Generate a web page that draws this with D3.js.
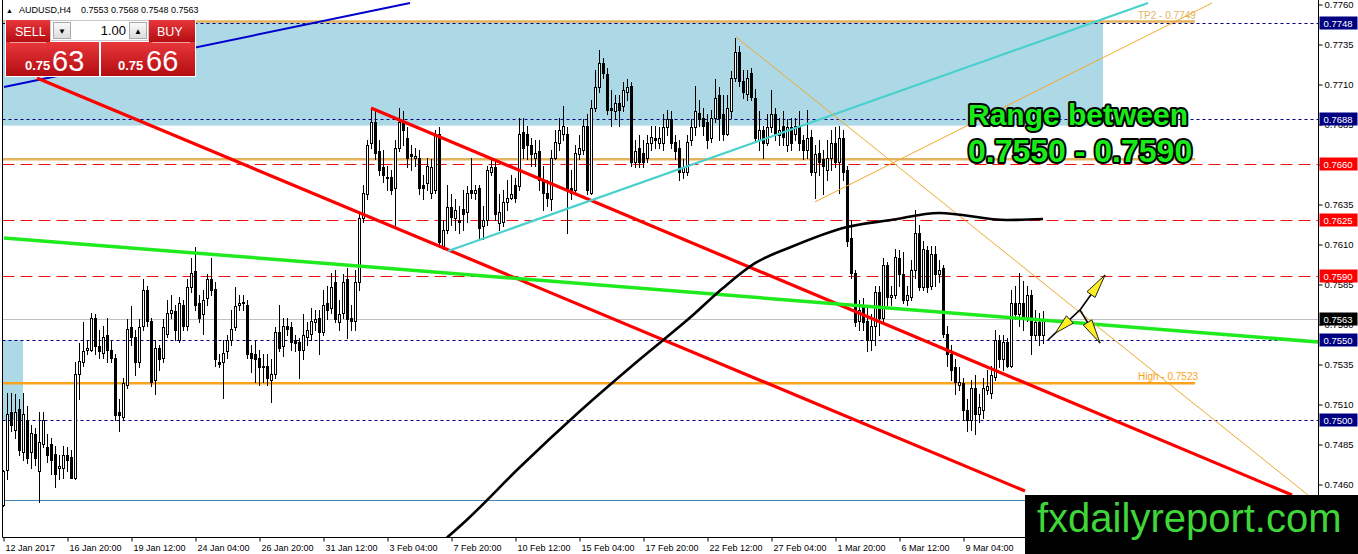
<!DOCTYPE html>
<html><head><meta charset="utf-8">
<script src="https://cdn.jsdelivr.net/npm/d3@7"></script>
<style>
html,body{margin:0;padding:0;background:#fff;overflow:hidden;}
svg{display:block;}
text{font-family:"Liberation Sans",Arial,sans-serif;}
</style></head><body>
<svg id="c" width="1358" height="554"></svg>
<script>
// ---------- DATA ----------
// AUDUSD H4 candles, [open, high, low, close] in pips (price x 10000)
const ohlcPips = [
[7447,7469,7446,7468],[7469,7517,7463,7504],[7505,7517,7493,7497],[7494,7516,7489,7505],[7507,7513,7478,7481],
[7480,7517,7475,7504],[7500,7509,7473,7476],[7480,7497,7470,7492],[7491,7495,7472,7476],[7468,7505,7449,7486],
[7485,7505,7483,7500],[7483,7491,7474,7478],[7485,7489,7466,7475],[7479,7484,7458,7466],[7470,7478,7463,7471],
[7470,7484,7464,7478],[7478,7483,7468,7475],[7477,7481,7464,7464],[7464,7536,7463,7529],[7529,7548,7513,7537],
[7536,7561,7534,7543],[7544,7550,7541,7545],[7544,7567,7543,7564],[7564,7566,7541,7546],[7546,7556,7539,7543],
[7542,7559,7539,7552],[7553,7564,7536,7544],[7544,7550,7536,7539],[7539,7541,7500,7503],[7505,7513,7493,7503],
[7502,7526,7500,7523],[7522,7563,7520,7557],[7558,7571,7547,7552],[7552,7556,7528,7536],[7536,7563,7533,7558],
[7559,7588,7556,7581],[7581,7584,7559,7562],[7562,7564,7521,7524],[7525,7550,7516,7545],[7545,7547,7531,7538],
[7539,7563,7536,7558],[7554,7575,7552,7567],[7567,7578,7564,7569],[7568,7572,7550,7556],[7550,7577,7549,7573],
[7572,7575,7556,7559],[7559,7588,7556,7583],[7583,7601,7580,7592],[7593,7608,7569,7572],[7573,7578,7561,7564],
[7566,7581,7554,7575],[7576,7591,7572,7588],[7588,7601,7578,7581],[7582,7586,7534,7538],[7536,7541,7533,7535],
[7536,7550,7514,7542],[7543,7553,7539,7550],[7550,7569,7547,7557],[7558,7583,7556,7571],[7572,7578,7569,7573],
[7574,7578,7569,7573],[7572,7575,7539,7541],[7542,7547,7530,7539],[7541,7550,7524,7538],[7539,7544,7522,7533],
[7534,7541,7524,7533],[7534,7541,7522,7526],[7525,7538,7511,7529],[7529,7558,7526,7555],[7555,7572,7543,7545],
[7546,7564,7540,7559],[7559,7564,7553,7557],[7558,7561,7544,7549],[7550,7553,7543,7548],[7549,7551,7526,7544],
[7544,7566,7538,7553],[7552,7561,7547,7556],[7554,7570,7550,7562],[7561,7569,7556,7563],[7564,7569,7541,7555],
[7555,7581,7553,7572],[7573,7584,7563,7569],[7570,7592,7567,7583],[7586,7594,7561,7563],[7561,7575,7556,7566],
[7567,7591,7564,7586],[7588,7595,7551,7563],[7564,7572,7556,7562],[7562,7594,7556,7586],[7586,7630,7581,7626],
[7626,7647,7624,7642],[7641,7675,7638,7672],[7673,7695,7670,7686],[7686,7693,7663,7667],[7668,7675,7653,7656],
[7658,7669,7649,7653],[7652,7659,7644,7651],[7652,7656,7641,7644],[7645,7675,7622,7670],[7670,7695,7668,7686],
[7686,7693,7672,7681],[7676,7683,7658,7664],[7666,7672,7656,7665],[7664,7670,7659,7665],[7664,7669,7641,7645],
[7647,7653,7638,7645],[7648,7664,7644,7659],[7642,7663,7639,7658],[7644,7681,7642,7678],[7679,7683,7608,7611],
[7609,7625,7607,7619],[7619,7647,7617,7633],[7633,7641,7622,7627],[7626,7638,7619,7631],[7625,7634,7617,7624],
[7632,7644,7619,7629],[7630,7646,7624,7642],[7644,7664,7639,7642],[7642,7647,7638,7644],[7645,7647,7614,7620],
[7621,7634,7613,7625],[7625,7659,7622,7656],[7655,7663,7653,7658],[7658,7661,7625,7629],[7623,7641,7619,7630],
[7624,7644,7621,7636],[7636,7650,7631,7639],[7639,7653,7638,7641],[7647,7651,7636,7639],[7646,7689,7644,7679],
[7680,7689,7664,7670],[7679,7684,7663,7672],[7672,7676,7659,7666],[7664,7675,7659,7667],[7668,7675,7644,7650],
[7650,7659,7631,7642],[7642,7650,7634,7639],[7638,7669,7631,7664],[7664,7681,7663,7674],[7673,7689,7669,7681],
[7679,7696,7675,7684],[7679,7683,7617,7644],[7645,7656,7638,7642],[7644,7672,7641,7667],[7666,7678,7663,7670],
[7669,7688,7666,7684],[7684,7691,7641,7644],[7642,7700,7641,7695],[7695,7719,7693,7708],[7708,7731,7705,7723],
[7723,7726,7714,7717],[7716,7720,7691,7694],[7695,7706,7684,7694],[7693,7703,7688,7698],[7698,7703,7684,7694],
[7696,7711,7693,7706],[7705,7713,7700,7708],[7709,7711,7659,7661],[7661,7675,7658,7668],[7670,7678,7658,7661],
[7667,7675,7658,7661],[7664,7678,7661,7673],[7673,7684,7669,7677],[7676,7684,7670,7675],[7673,7683,7670,7676],
[7673,7691,7669,7683],[7683,7694,7678,7688],[7688,7693,7670,7673],[7674,7678,7663,7668],[7670,7675,7650,7655],
[7655,7663,7651,7658],[7655,7678,7653,7674],[7675,7688,7672,7683],[7683,7709,7678,7693],[7692,7700,7684,7688],
[7689,7695,7678,7684],[7686,7691,7670,7675],[7676,7694,7674,7689],[7689,7713,7686,7701],[7703,7708,7675,7689],
[7691,7703,7675,7679],[7679,7703,7678,7695],[7693,7718,7689,7714],[7714,7739,7712,7730],[7730,7734,7709,7712],
[7712,7719,7701,7705],[7704,7719,7700,7714],[7717,7720,7700,7702],[7701,7707,7674,7676],[7675,7693,7669,7681],
[7681,7684,7664,7673],[7673,7691,7672,7683],[7683,7706,7680,7691],[7691,7695,7675,7679],[7678,7689,7672,7681],
[7684,7693,7672,7677],[7672,7688,7668,7683],[7683,7689,7669,7673],[7679,7689,7675,7684],[7683,7693,7669,7673],
[7675,7678,7663,7669],[7669,7694,7664,7676],[7677,7681,7653,7655],[7655,7672,7639,7666],[7667,7675,7653,7661],
[7663,7669,7641,7659],[7656,7675,7650,7664],[7664,7681,7656,7673],[7673,7683,7658,7661],[7661,7684,7642,7676],
[7676,7681,7650,7655],[7656,7659,7609,7612],[7614,7625,7589,7592],[7592,7594,7559,7561],[7562,7575,7556,7569],
[7571,7576,7556,7561],[7562,7572,7543,7550],[7550,7566,7544,7559],[7559,7584,7547,7580],[7580,7584,7553,7564],
[7564,7601,7562,7597],[7597,7599,7572,7577],[7577,7584,7572,7578],[7578,7607,7576,7602],[7601,7606,7584,7591],
[7591,7605,7573,7575],[7575,7584,7572,7578],[7577,7600,7575,7594],[7594,7631,7589,7617],[7617,7622,7581,7583],
[7583,7612,7581,7607],[7606,7609,7580,7583],[7584,7609,7582,7604],[7604,7609,7584,7591],[7591,7600,7586,7594],
[7595,7597,7552,7554],[7554,7559,7534,7541],[7541,7547,7525,7531],[7533,7538,7516,7524],[7522,7533,7519,7524],
[7523,7526,7500,7506],[7506,7513,7493,7500],[7500,7525,7494,7520],[7520,7528,7491,7504],[7504,7516,7499,7508],
[7506,7526,7501,7520],[7519,7531,7516,7521],[7517,7534,7514,7528],[7527,7556,7525,7550],[7550,7553,7533,7538],
[7538,7553,7531,7549],[7549,7551,7533,7534],[7534,7581,7533,7573],[7573,7584,7563,7566],[7566,7592,7559,7573],
[7573,7587,7556,7564],[7564,7584,7562,7578],[7578,7581,7541,7553],[7553,7569,7550,7561],[7561,7567,7547,7553],
[7553,7568,7548,7563]
];
const xTickBars = [0,16,32,48,64,80,96,112,128,144,160,176,192,208,224,240];
const xLabels = ["12 Jan 2017","16 Jan 20:00","19 Jan 12:00","24 Jan 04:00","26 Jan 20:00","31 Jan 12:00",
  "3 Feb 04:00","7 Feb 20:00","10 Feb 12:00","15 Feb 04:00","17 Feb 20:00","22 Feb 12:00","27 Feb 04:00",
  "1 Mar 20:00","6 Mar 12:00","9 Mar 04:00"];
const yTicks = [0.7760,0.7735,0.7710,0.7685,0.7660,0.7635,0.7610,0.7585,0.7560,0.7535,0.7510,0.7485,0.7460];
const priceRange = [0.7426875, 0.7760];
const barRange = [0, 1];

const navyLevels = [0.7748, 0.7688, 0.7550, 0.7500];
const redLevels = [0.7660, 0.7625, 0.7590];
const currentPrice = 0.7563;
const baseLevel = 0.7450;
const objectLevels = [0.7749, 0.7663, 0.7523];
const objectLabels = ["TP2 - 0.7749", "", "High - 0.7523"];
const objectEndBar = 298;
const priceTags = [0.7748, 0.7688, 0.7660, 0.7625, 0.7590, 0.7563, 0.7550, 0.7500];
const priceTagKinds = ["navy","navy","red","red","red","black","navy","navy"];
const zones = [ // [bar from, bar to, price low, price high]
  [-10, 275, 0.7684, 0.7749],
  [-10, 5, 0.7500, 0.7550]
];
const trendIds = ["blue","redLower","redUpper","green","cyan","orangeDown","orangeUp"];
const trendPoints = [ // [bar1, price1, bar2, price2]
  [0.25, 0.77081, 101.75, 0.77606],
  [8.5, 0.77138, 255.5, 0.74556],
  [92, 0.76950, 322.25, 0.74531],
  [0.25, 0.76138, 328.75, 0.75488],
  [111.25, 0.76056, 286.25, 0.77606],
  [183.25, 0.77394, 326.25, 0.74531],
  [203, 0.76363, 302.25, 0.77606]
];
const maBars = [111,116,129,144,159,172,180,188,197,211,222,234,251,260];
const maValues = [0.74265,0.74377,0.74700,0.75050,0.75375,0.75645,0.75825,0.75980,0.76081,0.76206,0.76250,0.76294,0.76250,0.76256];
const arrowNodes = { A:[261.25,0.75500], B:[269.25,0.75688], C:[275.5,0.75906], D:[274.25,0.75481] };
const header = { symbol:"AUDUSD,H4", values:"0.7553 0.7568 0.7548 0.7563" };
const quote = { lot:"1.00", bidBig:"0.75", bid:"63", askBig:"0.75", ask:"66" };
const rangeText = ["Range between", "0.7550 - 0.7590"];

// ---------- STYLES ----------
const trendStyle = {
  blue:{c:"#0000cd",w:2}, redLower:{c:"#ff0000",w:3.2}, redUpper:{c:"#ff0000",w:3.2},
  green:{c:"#1eea1e",w:3.5}, cyan:{c:"#48d1cc",w:2.2}, orangeDown:{c:"#f0a830",w:1}, orangeUp:{c:"#f0a830",w:1}
};
const tagColor = {navy:"#000080", red:"#ff0000", black:"#000000"};
const objColors = ["#e3b35e","#e3b35e","#f9a21b"];

// ---------- SCALES ----------
const x = d3.scaleLinear().domain(barRange).range([3, 7]);
const y = d3.scaleLinear().domain(priceRange).range([537, 4]);
const PL = 2.5, PR = 1318.5, PB = 537.5;

const candles = ohlcPips.map((r,i)=>({i, o:r[0]/1e4, h:r[1]/1e4, l:r[2]/1e4, c:r[3]/1e4}));

const svg = d3.select("#c");
const defs = svg.append("defs");
defs.append("clipPath").attr("id","plot").append("rect").attr("x",3).attr("y",0).attr("width",PR-3).attr("height",PB);
const gr = defs.append("linearGradient").attr("id","redg").attr("x1",0).attr("y1",0).attr("x2",0).attr("y2",1);
gr.append("stop").attr("offset","0").attr("stop-color","#e8373a");
gr.append("stop").attr("offset","1").attr("stop-color","#b30d12");
const gg = defs.append("linearGradient").attr("id","grayg").attr("x1",0).attr("y1",0).attr("x2",0).attr("y2",1);
gg.append("stop").attr("offset","0").attr("stop-color","#fafafa");
gg.append("stop").attr("offset","1").attr("stop-color","#dcdcdc");

const plot = svg.append("g").attr("clip-path","url(#plot)");

// zones
plot.append("g").selectAll("rect").data(zones).join("rect")
  .attr("x", d=>x(d[0])).attr("width", d=>x(d[1])-x(d[0]))
  .attr("y", d=>y(d[3])).attr("height", d=>y(d[2])-y(d[3]))
  .attr("fill","#add8e6");

const px = v => Math.round(v)+0.5;
// horizontal levels
plot.append("line").attr("x1",PL).attr("x2",PR).attr("y1",px(y(baseLevel))).attr("y2",px(y(baseLevel))).attr("stroke","#4682b4");
plot.append("line").attr("x1",PL).attr("x2",PR).attr("y1",px(y(currentPrice))).attr("y2",px(y(currentPrice))).attr("stroke","#c0c0c0");
plot.append("g").selectAll("line").data(navyLevels).join("line")
  .attr("x1",PL).attr("x2",PR).attr("y1",d=>px(y(d))).attr("y2",d=>px(y(d)))
  .attr("stroke","#000080").attr("stroke-dasharray","3,3");
plot.append("g").selectAll("line").data(redLevels).join("line")
  .attr("x1",PL).attr("x2",PR).attr("y1",d=>px(y(d))).attr("y2",d=>px(y(d)))
  .attr("stroke","#ee1111").attr("stroke-dasharray","12,6");
plot.append("g").selectAll("line").data(objectLevels).join("line")
  .attr("x1",PL).attr("x2",x(objectEndBar)).attr("y1",d=>y(d)).attr("y2",d=>y(d))
  .attr("stroke",(d,i)=>objColors[i]).attr("stroke-width",2.5);

// candles
const cg = plot.append("g");
cg.selectAll("line").data(candles).join("line")
  .attr("x1",d=>Math.round(x(d.i))+0.5).attr("x2",d=>Math.round(x(d.i))+0.5)
  .attr("y1",d=>Math.round(y(d.h))).attr("y2",d=>Math.round(y(d.l))+1)
  .attr("stroke","#000").attr("stroke-width",1);
cg.selectAll("rect").data(candles).join("rect")
  .attr("x",d=>Math.round(x(d.i))-0.5).attr("width",2)
  .attr("y",d=>Math.round(y(Math.max(d.o,d.c)))+0.5)
  .attr("height",d=>Math.max(0,Math.round(y(Math.min(d.o,d.c)))-Math.round(y(Math.max(d.o,d.c)))))
  .attr("fill",d=>d.c>=d.o?"#fff":"#000").attr("stroke","#000").attr("stroke-width",1);

// trend lines
plot.append("g").selectAll("line").data(trendPoints).join("line")
  .attr("x1",d=>x(d[0])).attr("y1",d=>y(d[1])).attr("x2",d=>x(d[2])).attr("y2",d=>y(d[3]))
  .attr("stroke",(d,i)=>trendStyle[trendIds[i]].c).attr("stroke-width",(d,i)=>trendStyle[trendIds[i]].w);

// moving average
plot.append("path").datum(maBars.map((b,i)=>[b,maValues[i]]))
  .attr("d", d3.line().x(d=>x(d[0])).y(d=>y(d[1])).curve(d3.curveMonotoneX))
  .attr("fill","none").attr("stroke","#000").attr("stroke-width",2.6);

// arrows
const P = k => [x(arrowNodes[k][0]), y(arrowNodes[k][1])];
const ag = plot.append("g");
[["B","A"],["B","C"],["B","D"]].forEach(([s,e])=>{
  const a=P(s), b=P(e);
  ag.append("line").attr("x1",a[0]).attr("y1",a[1]).attr("x2",b[0]).attr("y2",b[1]).attr("stroke","#000").attr("stroke-width",1.6);
});
function head(from, to, back, len, hw){
  const dx=to[0]-from[0], dy=to[1]-from[1], L=Math.hypot(dx,dy), ux=dx/L, uy=dy/L;
  const tip=[to[0]-ux*back, to[1]-uy*back], base=[tip[0]-ux*len, tip[1]-uy*len];
  return [tip,[base[0]-uy*hw, base[1]+ux*hw],[base[0]+uy*hw, base[1]-ux*hw]];
}
[[P("B"),P("A"),10,20,5],[P("B"),P("C"),0,24,5],[P("B"),P("D"),0,24,5]].forEach(h=>{
  ag.append("polygon").attr("points", head(...h).map(p=>p.join(",")).join(" "))
    .attr("fill","#ffee22").attr("stroke","#222").attr("stroke-width",1);
});

// object labels
svg.append("g").selectAll("text").data(objectLevels).join("text")
  .attr("x",(d,i)=>x(objectEndBar)-57).attr("y",d=>y(d)-3)
  .attr("font-size",10).attr("fill",(d,i)=>objColors[i]).text((d,i)=>objectLabels[i]);

// Range text
svg.append("g").selectAll("text").data(rangeText).join("text")
  .attr("x",968).attr("y",(d,i)=>i?162:125)
  .attr("font-size",(d,i)=>i?32:30).attr("font-weight","bold")
  .attr("fill","#18ec18").attr("stroke","#000").attr("stroke-width",4).attr("paint-order","stroke")
  .attr("stroke-linejoin","round").text(d=>d);

// frame
svg.append("line").attr("x1",PL).attr("x2",PL).attr("y1",0).attr("y2",PB).attr("stroke","#000");
svg.append("line").attr("x1",PR).attr("x2",PR).attr("y1",0).attr("y2",PB).attr("stroke","#000");
svg.append("line").attr("x1",PL).attr("x2",PR).attr("y1",PB).attr("y2",PB).attr("stroke","#000");

// y axis
const ya = svg.append("g").attr("transform",`translate(${PR},0)`)
  .call(d3.axisRight(y).tickValues(yTicks).tickFormat(d3.format(".4f")).tickSize(4).tickPadding(2));
ya.select(".domain").remove();
ya.selectAll("line").attr("transform","translate(0,0.5)");
ya.selectAll("text").attr("font-size",9.5).attr("font-family","Liberation Sans, Arial").attr("fill","#000");

// x axis
const xa = svg.append("g").attr("transform",`translate(0,${PB})`)
  .call(d3.axisBottom(x).tickValues(xTickBars).tickFormat((d,i)=>xLabels[i]).tickSize(4).tickPadding(3));
xa.select(".domain").remove();
xa.selectAll(".tick line").attr("transform","translate(0.5,0)");
xa.selectAll("text").attr("text-anchor","start").attr("dx",2).attr("font-size",9).attr("font-family","Liberation Sans, Arial").attr("fill","#000");

// price tags
const tg = svg.append("g").selectAll("g").data(priceTags).join("g")
  .attr("transform",d=>`translate(${PR+1},${Math.round(y(d))})`);
tg.append("rect").attr("x",0).attr("y",-6.5).attr("width",38).attr("height",13).attr("fill",(d,i)=>tagColor[priceTagKinds[i]]);
tg.append("text").attr("x",4).attr("y",4).attr("font-size",9.5).attr("fill","#fff").text(d=>d3.format(".4f")(d));

// header
const ht = svg.append("text").attr("x",6).attr("y",13).attr("font-size",9).attr("fill","#000");
ht.append("tspan").attr("font-size",7).text("▲");
ht.append("tspan").attr("x",19).text(header.symbol);
ht.append("tspan").attr("x",81).text(header.values);

// trade panel
const tp = svg.append("g");
tp.append("rect").attr("x",5).attr("y",19).attr("width",191).attr("height",58).attr("fill","#fff");
tp.append("rect").attr("x",6).attr("y",20).attr("width",44).attr("height",22).attr("fill","url(#redg)");
tp.append("rect").attr("x",149).attr("y",20).attr("width",46).attr("height",22).attr("fill","url(#redg)");
tp.append("rect").attr("x",50.5).attr("y",20.5).attr("width",98).attr("height",20).attr("fill","#fff").attr("stroke","#c8c8c8");
tp.append("rect").attr("x",53.5).attr("y",22.5).attr("width",17).attr("height",16).attr("fill","url(#grayg)").attr("stroke","#aaa");
tp.append("rect").attr("x",129.5).attr("y",22.5).attr("width",17).attr("height",16).attr("fill","url(#grayg)").attr("stroke","#aaa");
tp.append("text").attr("x",62).attr("y",34).attr("text-anchor","middle").attr("font-size",8).text("▼");
tp.append("text").attr("x",138).attr("y",34).attr("text-anchor","middle").attr("font-size",8).text("▲");
tp.append("text").attr("x",126).attr("y",35).attr("text-anchor","end").attr("font-size",13).attr("fill","#000").text(quote.lot);
tp.append("rect").attr("x",6).attr("y",42).attr("width",93).attr("height",34).attr("fill","url(#redg)");
tp.append("rect").attr("x",101).attr("y",42).attr("width",94).attr("height",34).attr("fill","url(#redg)");
tp.append("line").attr("x1",10).attr("x2",46).attr("y1",42.5).attr("y2",42.5).attr("stroke","#f3a0a0");
tp.append("line").attr("x1",152).attr("x2",190).attr("y1",42.5).attr("y2",42.5).attr("stroke","#f3a0a0");
tp.append("text").attr("x",15).attr("y",36).attr("font-size",12.5).attr("fill","#fff").text("SELL");
tp.append("text").attr("x",157).attr("y",36).attr("font-size",12.5).attr("fill","#fff").text("BUY");
tp.append("text").attr("x",25).attr("y",70).attr("font-size",13).attr("font-weight","bold").attr("fill","#fff").text(quote.bidBig);
tp.append("text").attr("x",52).attr("y",71).attr("font-size",29).attr("fill","#fff").text(quote.bid);
tp.append("text").attr("x",118).attr("y",70).attr("font-size",13).attr("font-weight","bold").attr("fill","#fff").text(quote.askBig);
tp.append("text").attr("x",146).attr("y",71).attr("font-size",29).attr("fill","#fff").text(quote.ask);

// watermark
svg.append("rect").attr("x",1025).attr("y",495).attr("width",333).attr("height",59).attr("fill","#000");
svg.append("text").attr("x",1037).attr("y",532).attr("font-size",40).attr("fill","#3fd63a").text("fxdailyreport.com");
</script>
</body></html>
